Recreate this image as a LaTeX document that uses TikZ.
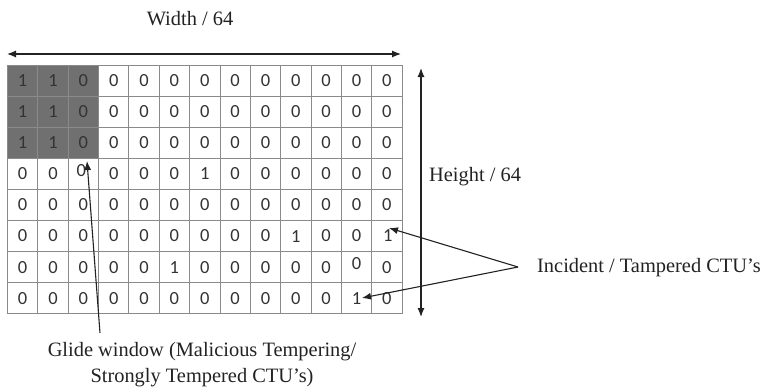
\documentclass[tikz,border=0pt]{standalone}
\usepackage{fontspec}
\setmainfont{Liberation Serif}
\newfontfamily\cellfont{Carlito}
\usetikzlibrary{arrows.meta}
\definecolor{gridgray}{HTML}{8A8A8A}
\definecolor{winfill}{HTML}{707070}
\definecolor{digit}{HTML}{333333}
\definecolor{ink}{HTML}{222222}
\begin{document}
\begin{tikzpicture}[x=1pt,y=-1pt,
  cell/.style={draw=gridgray, line width=0.9pt, minimum width=30.35pt,
    minimum height=31.1pt, inner sep=0pt, outer sep=0pt},
  digitlabel/.style={font=\cellfont\fontsize{18.5}{18.5}\selectfont, text=digit, inner sep=0pt},
  lbl/.style={font=\fontsize{20.4}{26}\selectfont, text=ink, inner sep=0pt},
  dim/.style={draw=ink, line width=1.2pt, {Latex[length=9pt,width=7pt]}-{Latex[length=9pt,width=7pt]}},
  pointer/.style={draw=ink, line width=1.1pt, -{Latex[length=9pt,width=7pt]}}
]
\useasboundingbox (0,0) rectangle (764,391);

% cell grid: 8 rows of 13 CTU flags, '-' marks a cell whose digit is placed by hand
\foreach \r/\row in {
  0/{1,1,0,0,0,0,0,0,0,0,0,0,0},
  1/{1,1,0,0,0,0,0,0,0,0,0,0,0},
  2/{1,1,0,0,0,0,0,0,0,0,0,0,0},
  3/{0,0,-,0,0,0,1,0,0,0,0,0,0},
  4/{0,0,0,0,0,0,0,0,0,0,0,0,0},
  5/{0,0,0,0,0,0,0,0,0,1,0,0,-},
  6/{0,0,0,0,0,1,0,0,0,0,0,-,0},
  7/{0,0,0,0,0,0,0,0,0,0,0,1,0}}{
  \foreach \v [count=\c from 0] in \row {
    \def\cellfill{white}
    \ifnum\r<3 \ifnum\c<3 \def\cellfill{winfill}\fi\fi
    \node[cell, fill=\cellfill] (c-\r-\c)
      at ({7.5+30.35*(\c+0.5)}, {65+31.1*(\r+0.5)}) {};
    \if\v-\else
      \node[digitlabel] (d-\r-\c) at (c-\r-\c) {\v};
    \fi
  }
}
% digits set slightly off their cell centres
\node[digitlabel] (d-3-2) at ([xshift=-2pt,yshift=3pt]c-3-2) {0};
\node[digitlabel] (d-5-12) at ([xshift=1pt,yshift=1pt]c-5-12) {1};
\node[digitlabel] (d-6-11) at ([yshift=4pt]c-6-11) {0};

% dimension arrows
\coordinate (wl) at (7,54);
\coordinate (wr) at (401,54);
\draw[dim] (wl) -- (wr);
\node[lbl] (width) at (190,19) {Width / 64};

\coordinate (ht) at (421,68);
\coordinate (hb) at (421,317);
\draw[dim] (ht) -- (hb);
\node[lbl, anchor=west] (height) at (429,177) {Height / 64};

% incident CTU pointers
\coordinate (fork) at (518,267);
\coordinate (hitA) at (389,228);
\coordinate (hitB) at (362,298);
\draw[pointer] (fork) -- (hitA);
\draw[pointer] (fork) -- (hitB);
\node[lbl, anchor=west] (incident) at (537,268) {Incident / Tampered CTU’s};

% glide window pointer
\coordinate (gtail) at (100,333);
\coordinate (ghead) at (87,161);
\draw[pointer] (gtail) -- (ghead);
\node[lbl, align=center] (glide) at (202,365)
  {Glide window (Malicious Tempering/\\Strongly Tempered CTU’s)};
\end{tikzpicture}
\end{document}
